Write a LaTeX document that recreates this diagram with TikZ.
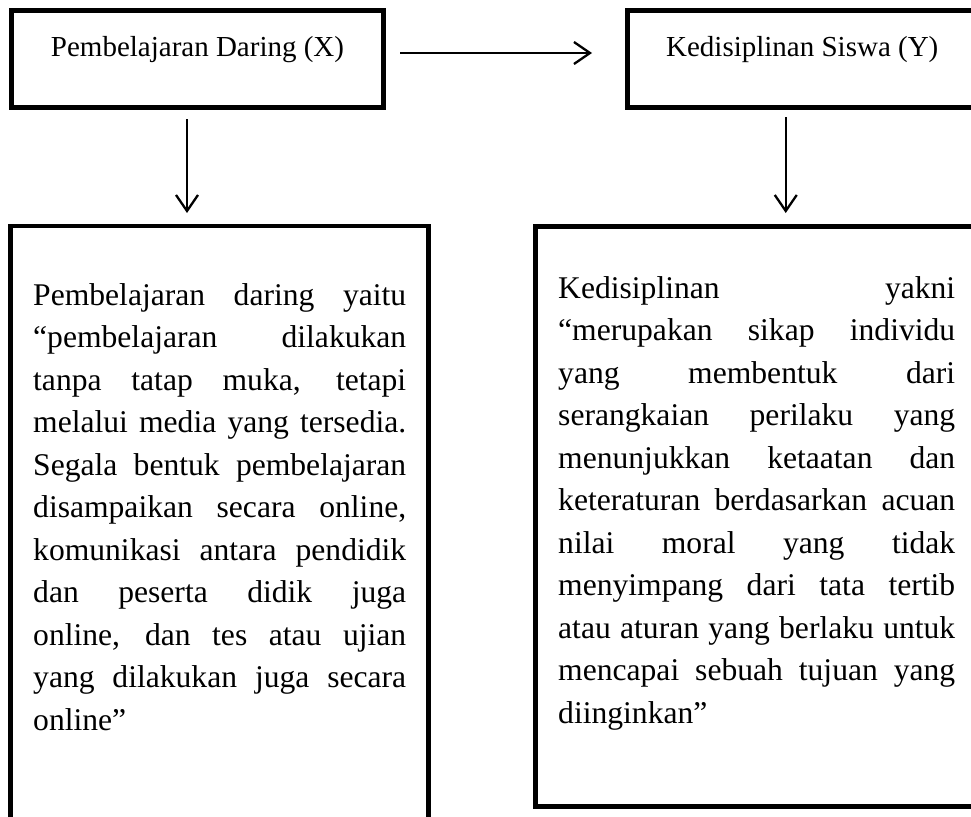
\documentclass[tikz,border=0pt]{standalone}
\usepackage{fontspec}
\setmainfont{Liberation Serif}
\usetikzlibrary{arrows.meta}
\newcommand\jline[1]{\hbox to \hsize{\spaceskip=0.25em plus 1fil\relax #1}}
\tikzset{
  boxst/.style={draw=black, line width=4.5pt, inner sep=0pt, outer sep=0pt},
  titlest/.style={font=\fontsize{29}{35}\selectfont, text height=20pt, text depth=25pt},
  bodyst/.style={font=\fontsize{31.6}{42.5}\selectfont, inner sep=0pt, anchor=base west},
  conn/.style={line width=2.3pt, -{Straight Barb[length=16pt,width=22pt]}}
}
\begin{document}
\begin{tikzpicture}[x=1pt,y=-1pt]
\useasboundingbox (0,0) rectangle (971,816);
\clip (0,0) rectangle (971,816);
% top boxes
\node[boxst, titlest, minimum width=372pt, minimum height=97pt] (X) at (197.5,59) {Pembelajaran Daring (X)};
\node[boxst, titlest, minimum width=349.5pt, minimum height=97pt] (Y) at (802.25,59) {Kedisiplinan Siswa (Y)};
% bottom boxes
\node[boxst, minimum width=418pt, minimum height=614pt] (BL) at (219.5,533) {};
\node[boxst, minimum width=441.5pt, minimum height=580pt] (BR) at (756.25,516.5) {};
% body texts
\node[bodyst] (TL) at (33,305) {\vtop{\hsize=373pt\baselineskip=42.5pt
\jline{Pembelajaran daring yaitu}
\jline{“pembelajaran dilakukan}
\jline{tanpa tatap muka, tetapi}
\jline{melalui media yang tersedia.}
\jline{Segala bentuk pembelajaran}
\jline{disampaikan secara online,}
\jline{komunikasi antara pendidik}
\jline{dan peserta didik juga}
\jline{online, dan tes atau ujian}
\jline{yang dilakukan juga secara}
\hbox{online”}}};
\node[bodyst] (TR) at (558,298) {\vtop{\hsize=397pt\baselineskip=42.5pt
\jline{Kedisiplinan yakni}
\jline{“merupakan sikap individu}
\jline{yang membentuk dari}
\jline{serangkaian perilaku yang}
\jline{menunjukkan ketaatan dan}
\jline{keteraturan berdasarkan acuan}
\jline{nilai moral yang tidak}
\jline{menyimpang dari tata tertib}
\jline{atau aturan yang berlaku untuk}
\jline{mencapai sebuah tujuan yang}
\hbox{diinginkan”}}};
% connectors
\draw[conn] ([xshift=16.5pt,yshift=6pt]X.east) -- ([xshift=-35.5pt,yshift=6pt]Y.west);
\draw[conn] ([xshift=-10.5pt,yshift=-11.5pt]X.south) -- ([xshift=-32.5pt,yshift=13pt]BL.north);
\draw[conn] ([xshift=-16.5pt,yshift=-9.5pt]Y.south) -- ([xshift=29.5pt,yshift=13.5pt]BR.north);
\end{tikzpicture}
\end{document}
